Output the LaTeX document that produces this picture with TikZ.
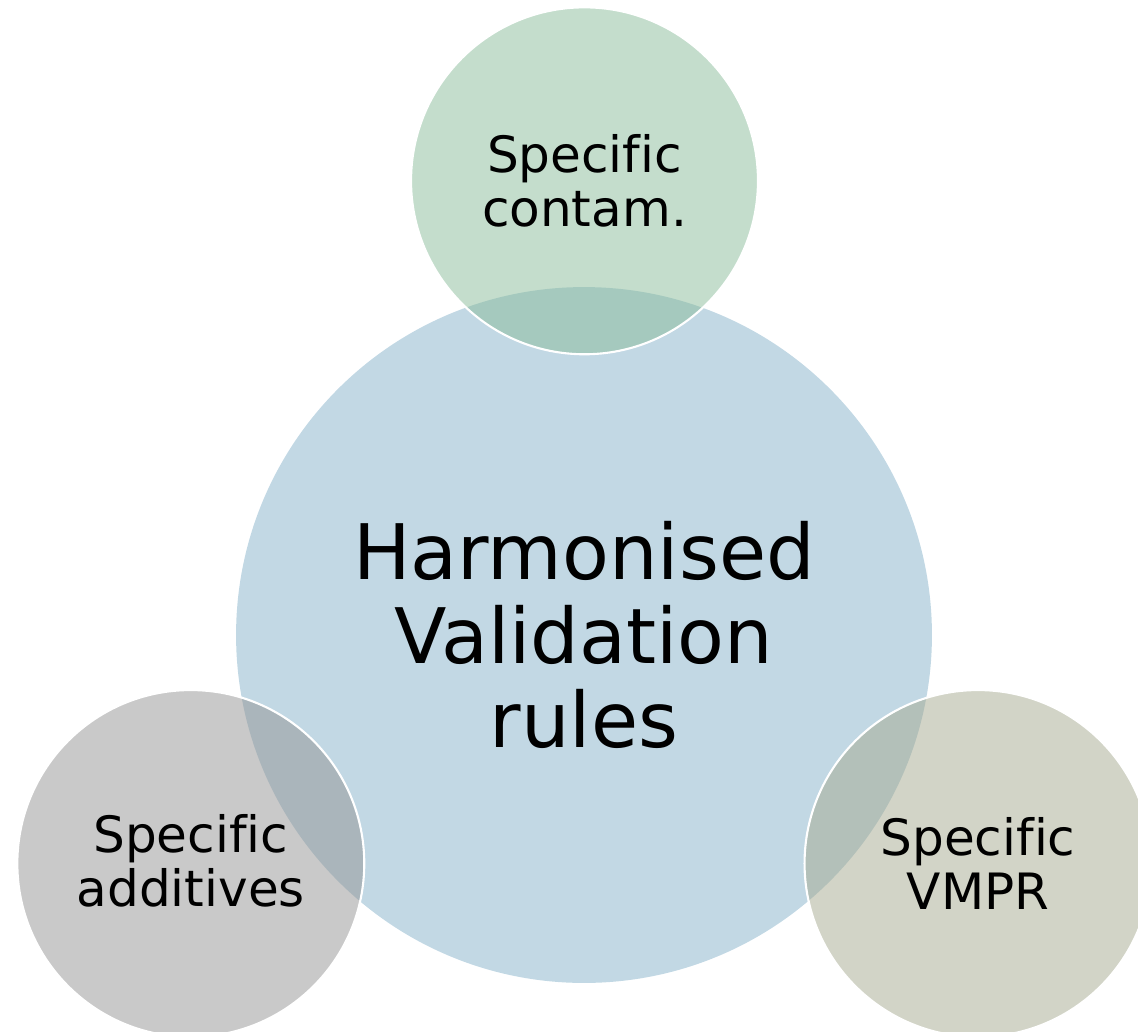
\documentclass[tikz,border=0pt]{standalone}
\usepackage{fontspec}
\setmainfont[Ligatures=NoCommon]{DejaVu Sans}
\definecolor{bigblue}{HTML}{C2D8E4}
\definecolor{cgreen}{HTML}{89BB99}
\definecolor{cgray}{HTML}{939393}
\definecolor{colive}{HTML}{A5A98F}
\tikzset{
  bigcirc/.style={circle, fill=bigblue, draw=none, inner sep=0pt, minimum size=13.92cm},
  smallcirc/.style={circle, fill opacity=0.5, draw=white, line width=1.2pt, inner sep=0pt, minimum size=6.94cm},
  smalltext/.style={align=center, font=\fontsize{28.5}{30.7}\selectfont, text=black},
  bigtext/.style={align=center, font=\fontsize{43.6}{48}\selectfont, text=black}
}
\begin{document}
\begin{tikzpicture}[x=0.02cm, y=-0.02cm]
\useasboundingbox (0,0) rectangle (1138,1031);
\clip (0,0) rectangle (1138,1031);
\node[bigcirc] (big) at (584,635) {};
\node[smallcirc, fill=cgreen] (top) at (584.5,180.8) {};
\node[smallcirc, fill=cgray] (left) at (190.8,863.5) {};
\node[smallcirc, fill=colive] (right) at (978,863.5) {};
\node[bigtext] (bigt) at (584,635) {Harmonised\\Validation\\rules};
\node[smalltext] (topt) at (584.5,180.5) {Specific\\contam.};
\node[smalltext] (leftt) at (190.8,861) {Specific\\additives};
\node[smalltext] (rightt) at (978,863) {Specific\\VMPR};
\end{tikzpicture}
\end{document}
